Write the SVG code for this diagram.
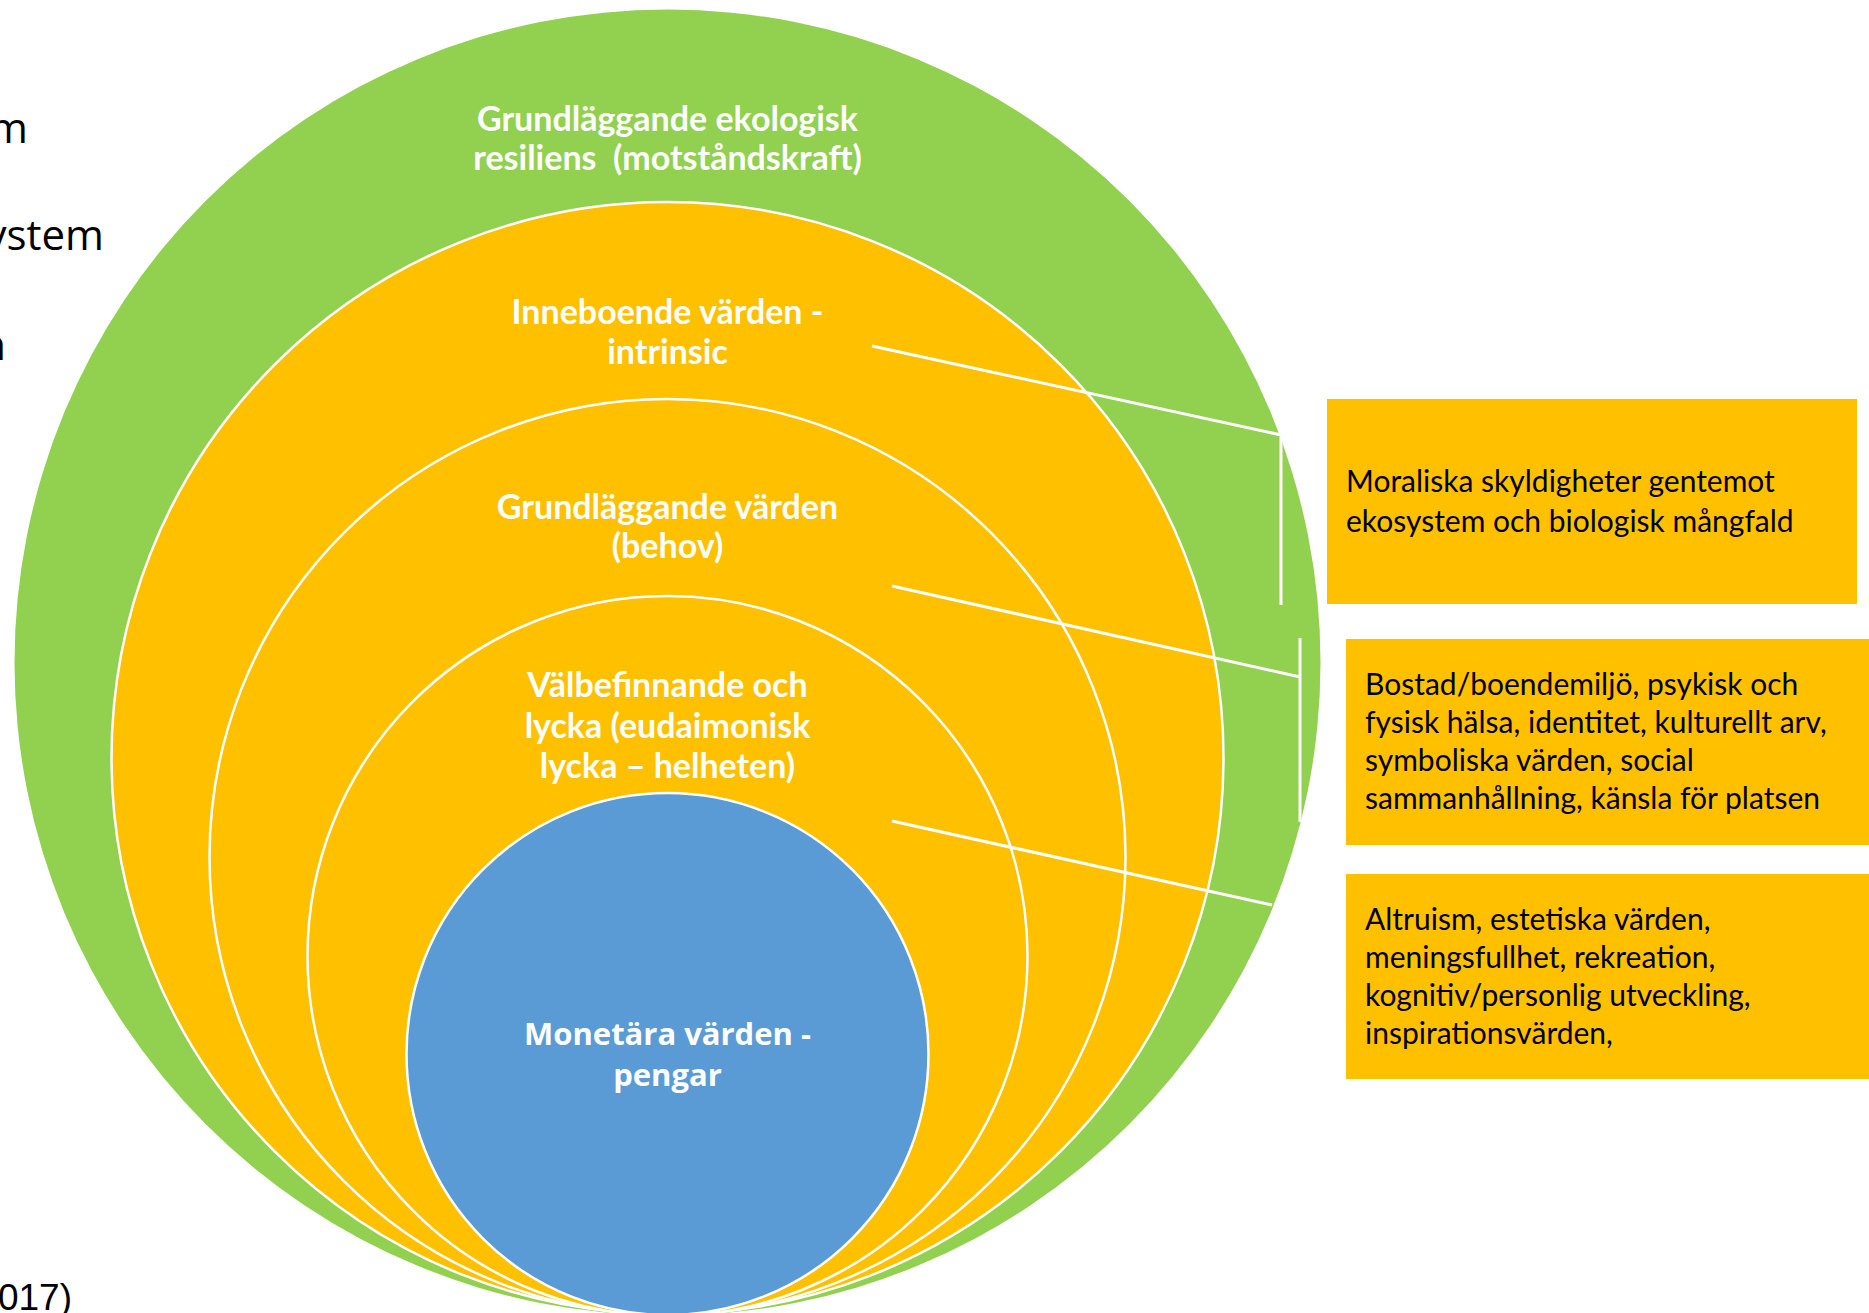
<svg xmlns="http://www.w3.org/2000/svg" width="1869" height="1313" viewBox="0 0 1869 1313">
<style>
.ring{stroke:#FFFFFF;stroke-width:2.5}
.lbl{font-family:Lato,"Open Sans",sans-serif;font-weight:700;font-size:34px;fill:#FFFFFF;text-anchor:middle}
.lblm{font-family:"Open Sans",sans-serif;font-weight:700;font-size:31px;fill:#FFFFFF;text-anchor:middle}
.box{fill:#FFC000}
.bt{font-family:Lato,"Open Sans",sans-serif;font-size:30px;fill:#000000}
.frag{font-family:"Open Sans",sans-serif;font-size:42px;fill:#000000;text-anchor:end}
.conn{stroke:#FFFFFF;stroke-width:3;fill:none}
</style>
<rect width="1869" height="1313" fill="#FFFFFF"/>
<g id="left-fragments">
<text class="frag" x="28" y="143">m</text>
<text class="frag" x="104" y="250">ystem</text>
<text class="frag" x="6" y="360">n</text>
<text x="72" y="1310" style="font-family:'Liberation Sans',Arial,sans-serif;font-size:37px;fill:#000;text-anchor:end">017)</text>
</g>
<g id="ring-ecologic">
<circle cx="667.5" cy="662.5" r="653" fill="#92D050"/>
<text class="lbl" x="667.5" y="131">Grundläggande ekologisk</text>
<text class="lbl" x="667.5" y="170" xml:space="preserve">resiliens  (motståndskraft)</text>
</g>
<g id="ring-intrinsic">
<circle class="ring" cx="667.5" cy="758" r="556" fill="#FFC000"/>
<text class="lbl" x="667.5" y="324">Inneboende värden -</text>
<text class="lbl" x="667.5" y="364">intrinsic</text>
</g>
<g id="ring-basic">
<circle class="ring" cx="667.5" cy="857" r="458" fill="#FFC000"/>
<text class="lbl" x="667.5" y="519">Grundläggande värden</text>
<text class="lbl" x="667.5" y="558">(behov)</text>
</g>
<g id="ring-wellbeing">
<circle class="ring" cx="667.5" cy="956" r="360" fill="#FFC000"/>
<text class="lbl" x="667.5" y="697">Välbefinnande och</text>
<text class="lbl" x="667.5" y="738">lycka (eudaimonisk</text>
<text class="lbl" x="667.5" y="778">lycka – helheten)</text>
</g>
<g id="core-monetary">
<circle class="ring" cx="667.5" cy="1054" r="261" fill="#5B9BD5"/>
<text class="lblm" x="667.5" y="1045">Monetära värden -</text>
<text class="lblm" x="667.5" y="1086">pengar</text>
</g>
<g id="connectors">
<polyline class="conn" points="872,346 1281,435 1281,605"/>
<polyline class="conn" points="892,586 1300,677"/>
<line class="conn" x1="1300" y1="638" x2="1300" y2="822"/>
<line class="conn" x1="892" y1="821" x2="1272" y2="905"/>
</g>
<g id="box-moral">
<rect class="box" x="1327" y="399" width="530" height="205"/>
<text class="bt" x="1346" y="492">Moraliska skyldigheter gentemot</text>
<text class="bt" x="1346" y="532">ekosystem och biologisk mångfald</text>
</g>
<g id="box-basic">
<rect class="box" x="1346" y="639" width="523" height="206"/>
<text class="bt" x="1365" y="695">Bostad/boendemiljö, psykisk och</text>
<text class="bt" x="1365" y="733">fysisk hälsa, identitet, kulturellt arv,</text>
<text class="bt" x="1365" y="771">symboliska värden, social</text>
<text class="bt" x="1365" y="809">sammanhållning, känsla för platsen</text>
</g>
<g id="box-wellbeing">
<rect class="box" x="1346" y="874" width="523" height="205"/>
<text class="bt" x="1365" y="930">Altruism, estetiska värden,</text>
<text class="bt" x="1365" y="968">meningsfullhet, rekreation,</text>
<text class="bt" x="1365" y="1006">kognitiv/personlig utveckling,</text>
<text class="bt" x="1365" y="1044">inspirationsvärden,</text>
</g>
</svg>
